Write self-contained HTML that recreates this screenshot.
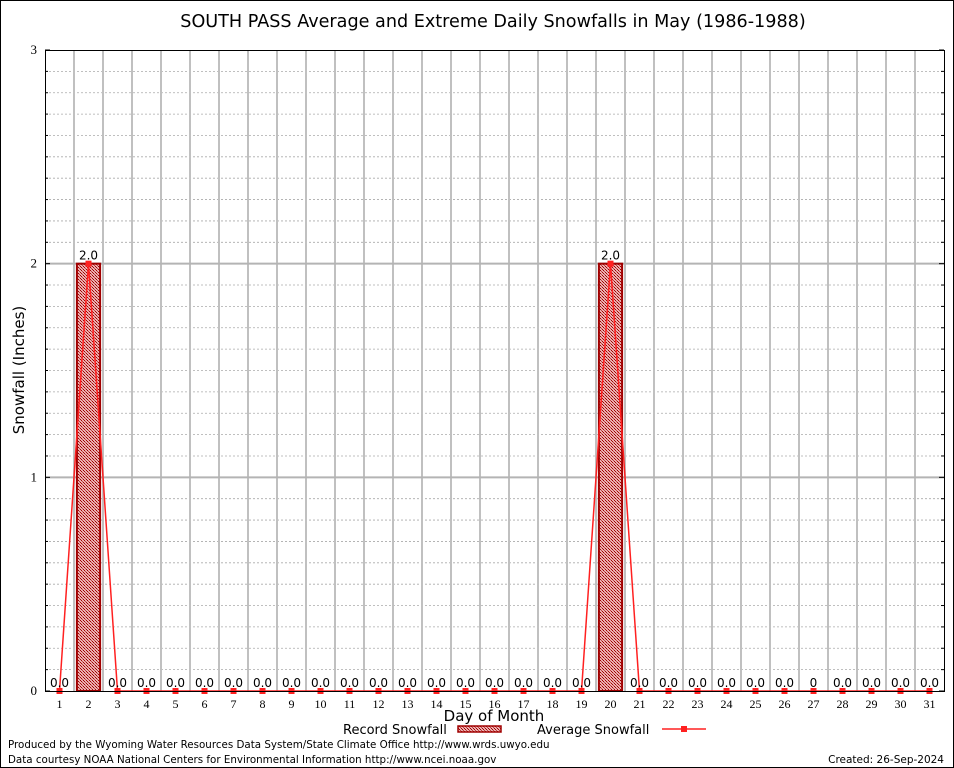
<!DOCTYPE html>
<html><head><meta charset="utf-8"><style>
body{margin:0;background:#fff}
svg{display:block}
.s{font-family:"DejaVu Sans","Liberation Sans",sans-serif}
.r{font-family:"Liberation Serif",serif}
</style></head><body>
<svg id="c" width="954" height="768" viewBox="0 0 954 768">
<defs>
<pattern id="hatch" width="3" height="3" patternUnits="userSpaceOnUse">
<rect width="3" height="3" fill="#eab0b0"/>
<rect width="1" height="1" fill="#a00000"/><rect x="2" y="2" width="1" height="1" fill="#a00000"/><rect x="1" y="1" width="1" height="1" fill="#c04040"/>
</pattern>
</defs>
<rect x="0.5" y="0.5" width="953" height="767" fill="#fff" stroke="#000"/>
<text x="493" y="27" font-size="17.6" text-anchor="middle" class="s">SOUTH PASS Average and Extreme Daily Snowfalls in May (1986-1988)</text>
<g id="grid"></g>
<g id="bars"></g>
<g id="line"></g>
<g id="labels"></g>
<rect x="45.5" y="50.5" width="899" height="641" fill="none" stroke="#000"/>
<g id="axes"></g>
<text transform="translate(24,370) rotate(-90)" font-size="15" text-anchor="middle" class="s">Snowfall (Inches)</text>
<text x="494" y="721" font-size="15" text-anchor="middle" class="s">Day of Month</text>
<g>
<text x="343" y="734" font-size="13" class="s">Record Snowfall</text>
<rect x="458" y="726" width="43" height="6" fill="url(#hatch)" stroke="#a00000" stroke-width="1.5"/>
<text x="537" y="734" font-size="13" class="s">Average Snowfall</text>
<line x1="662" y1="729" x2="706" y2="729" stroke="#ff2020" stroke-width="1.5"/>
<rect x="681" y="726" width="6" height="6" fill="#ff2020"/>
</g>
<text x="8" y="748" font-size="10.3" class="s">Produced by the Wyoming Water Resources Data System/State Climate Office http://www.wrds.uwyo.edu</text>
<text x="8" y="763" font-size="10.3" class="s">Data courtesy NOAA National Centers for Environmental Information http://www.ncei.noaa.gov</text>
<text x="944" y="763" font-size="10.5" text-anchor="end" class="s">Created:  26-Sep-2024</text>
</svg>
<script>
const days=[1,2,3,4,5,6,7,8,9,10,11,12,13,14,15,16,17,18,19,20,21,22,23,24,25,26,27,28,29,30,31];
const recordVals=[0,2,0,0,0,0,0,0,0,0,0,0,0,0,0,0,0,0,0,2,0,0,0,0,0,0,0,0,0,0,0];
const avgVals=[0,2,0,0,0,0,0,0,0,0,0,0,0,0,0,0,0,0,0,2,0,0,0,0,0,0,0,0,0,0,0];
const recordLabels=["0.0","2.0","0.0","0.0","0.0","0.0","0.0","0.0","0.0","0.0","0.0","0.0","0.0","0.0","0.0","0.0","0.0","0.0","0.0","2.0","0.0","0.0","0.0","0.0","0.0","0.0","0","0.0","0.0","0.0","0.0"];
const yTicks=[0,1,2,3];
const NS="http://www.w3.org/2000/svg";
const L=45,R=944,T=50,B=691,yMax=3;
const xs=d=>L+(d-0.5)*(R-L)/31;
const ys=v=>B-v*(B-T)/yMax;
function mk(p,tag,a){const e=document.createElementNS(NS,tag);for(const k in a)e.setAttribute(k,a[k]);document.getElementById(p).appendChild(e);return e;}
for(let i=1;i<30;i++){if(i%10===0)continue;const y=ys(i/10);
const e=mk('grid','line',{x1:L,x2:R,y1:y,y2:y,stroke:'#aaa','stroke-dasharray':'2,2','stroke-width':0.8});

}
for(let d=1;d<31;d++){const x=xs(d+0.5);
const e=mk('grid','line',{x1:x,x2:x,y1:T,y2:B,stroke:'#c0c0c0','stroke-width':2});

}
yTicks.forEach(v=>{const y=ys(v);
if(v>0&&v<yMax){const g=mk('grid','line',{x1:L,x2:R,y1:y,y2:y,stroke:'#b4b4b4','stroke-width':2});

}
const t=mk('axes','text',{x:L-8,y:y+4,'font-size':13,'text-anchor':'end','class':'r'});t.textContent=v;


mk('axes','line',{x1:L,x2:L+5,y1:y,y2:y,stroke:'#000'});mk('axes','line',{x1:R-5,x2:R,y1:y,y2:y,stroke:'#000'});});
for(let i=1;i<30;i++){if(i%10===0)continue;const y=ys(i/10);mk('axes','line',{x1:L,x2:L+3,y1:y,y2:y,stroke:'#000'});mk('axes','line',{x1:R-3,x2:R,y1:y,y2:y,stroke:'#000'});}
const bw=(R-L)/31*0.8;
days.forEach((d,i)=>{const x=xs(d);
const t=mk('axes','text',{x:x,y:B+17,'font-size':12,'text-anchor':'middle','class':'r'});t.textContent=d;


if(recordVals[i]>0){const b=mk('bars','rect',{x:x-bw/2,y:ys(recordVals[i]),width:bw,height:B-ys(recordVals[i]),fill:'url(#hatch)',stroke:'#a00000','stroke-width':2});

}
const lb=mk('labels','text',{x:x,y:ys(recordVals[i])-4,'font-size':12,'text-anchor':'middle','class':'s'});lb.textContent=recordLabels[i];

});
const pl=mk('line','polyline',{points:days.map((d,i)=>xs(d)+','+ys(avgVals[i])).join(' '),fill:'none',stroke:'#ff2020','stroke-width':1.5});


days.forEach((d,i)=>{const m=mk('line','rect',{x:xs(d)-3,y:ys(avgVals[i])-3,width:6,height:6,fill:'#ff2020'});

});
</script>
</body></html>
